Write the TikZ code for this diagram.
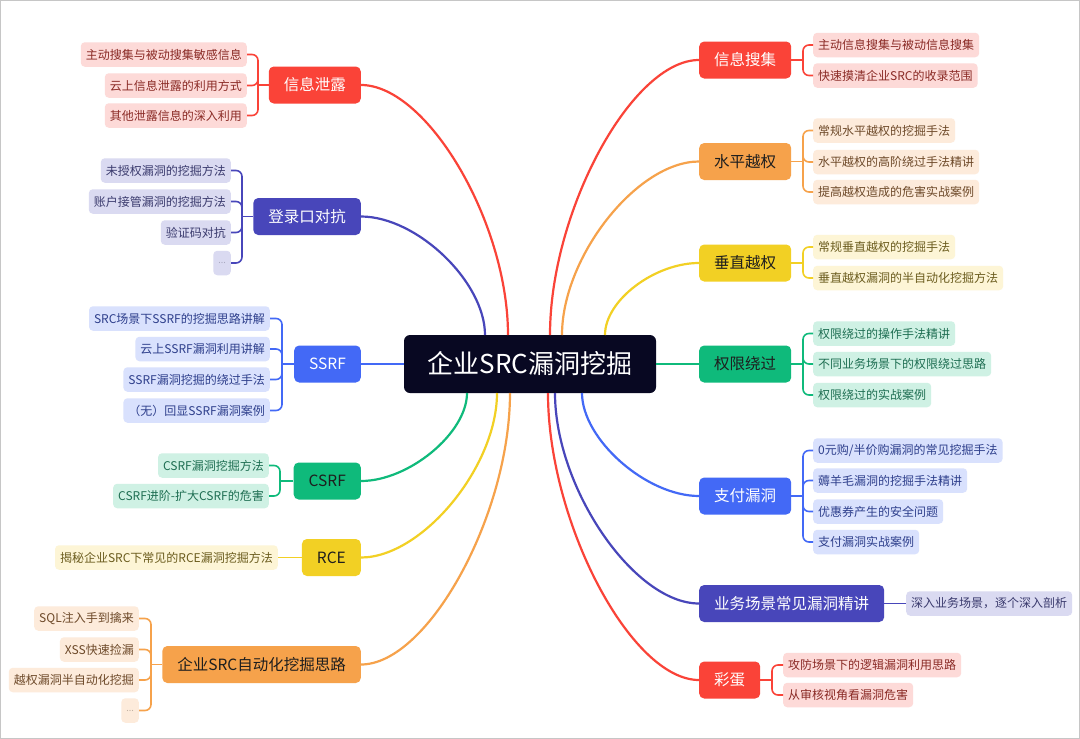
\documentclass[tikz,border=0pt]{standalone}
\usepackage{fontspec}
\setmainfont{Noto Sans CJK SC}
\usetikzlibrary{calc}
\definecolor{cRed}{HTML}{FA4338}
\definecolor{cOrange}{HTML}{F6A24B}
\definecolor{cYellow}{HTML}{F2D024}
\definecolor{cGreen}{HTML}{0FBA7B}
\definecolor{cBlue}{HTML}{4369F6}
\definecolor{cIndigo}{HTML}{4846BA}
\definecolor{cDark}{HTML}{080822}
\definecolor{fRed}{HTML}{FDDAD8}
\definecolor{fOrange}{HTML}{FDEBDB}
\definecolor{fYellow}{HTML}{FDF5D6}
\definecolor{fGreen}{HTML}{CFF1E4}
\definecolor{fBlue}{HTML}{D9E1FD}
\definecolor{fIndigo}{HTML}{DADAF1}
\definecolor{tRed}{HTML}{8A2A25}
\definecolor{tOrange}{HTML}{6E4A2A}
\definecolor{tYellow}{HTML}{6B5C1E}
\definecolor{tGreen}{HTML}{1E6E52}
\definecolor{tBlue}{HTML}{2E3F8C}
\definecolor{tIndigo}{HTML}{3B3B6E}
\definecolor{tDark}{HTML}{1E1E1E}
\begin{document}
\begin{tikzpicture}[x=1pt,y=-1pt,
  centralbox/.style={fill=cDark, text=white, rounded corners=6pt, minimum width=252pt, minimum height=58pt, inner sep=0pt, font=\fontsize{26}{30}\selectfont},
  mainbox/.style={rounded corners=5pt, minimum height=37pt, inner xsep=15pt, inner ysep=0pt, font=\fontsize{15.5}{18}\selectfont},
  leaf/.style={rounded corners=4pt, minimum height=24.5pt, inner xsep=5pt, inner ysep=0pt, font=\fontsize{12}{14}\selectfont},
  lRed/.style={leaf, fill=fRed, text=tRed},
  lOrange/.style={leaf, fill=fOrange, text=tOrange},
  lYellow/.style={leaf, fill=fYellow, text=tYellow},
  lGreen/.style={leaf, fill=fGreen, text=tGreen},
  lBlue/.style={leaf, fill=fBlue, text=tBlue},
  lIndigo/.style={leaf, fill=fIndigo, text=tIndigo},
  trunk/.style={line width=2.2pt},
  twig/.style={line width=1.6pt, rounded corners=6pt}
]
\useasboundingbox (0,0) rectangle (1080,739);
\fill[white] (0,0) rectangle (1080,739);
\draw[gray!45, line width=1.2pt] (0.6,0.6) rectangle (1079.4,738.4);

% ---------- root ----------
\node[centralbox] (root) at (530,364) {企业SRC漏洞挖掘};

% ---------- right main ----------
\node[mainbox, fill=cRed, text=white, anchor=west] (r1) at (699,60) {信息搜集};
\node[mainbox, fill=cOrange, text=tDark, anchor=west] (r2) at (699,161.5) {水平越权};
\node[mainbox, fill=cYellow, text=tDark, anchor=west] (r3) at (699,263) {垂直越权};
\node[mainbox, fill=cGreen, text=tDark, anchor=west] (r4) at (699,364) {权限绕过};
\node[mainbox, fill=cBlue, text=white, anchor=west] (r5) at (699,496) {支付漏洞};
\node[mainbox, fill=cIndigo, text=white, anchor=west] (r6) at (699,603.5) {业务场景常见漏洞精讲};
\node[mainbox, fill=cRed, text=white, anchor=west] (r7) at (699,680) {彩蛋};

% ---------- left main ----------
\node[mainbox, fill=cRed, text=white, anchor=east] (l1) at (361,85) {信息泄露};
\node[mainbox, fill=cIndigo, text=white, anchor=east] (l2) at (361,216.5) {登录口对抗};
\node[mainbox, fill=cBlue, text=white, anchor=east] (l3) at (361,364) {SSRF};
\node[mainbox, fill=cGreen, text=tDark, anchor=east] (l4) at (361,481) {CSRF};
\node[mainbox, fill=cYellow, text=tDark, anchor=east] (l5) at (361,557.5) {RCE};
\node[mainbox, fill=cOrange, text=tDark, anchor=east] (l6) at (361,664.5) {企业SRC自动化挖掘思路};

% ---------- attach points on root ----------
\coordinate (tl1) at (508,335);
\coordinate (tl2) at (485,335);
\coordinate (tr1) at (550,335);
\coordinate (tr2) at (562,335);
\coordinate (tr3) at (605,335);
\coordinate (bl4) at (467,393);
\coordinate (bl5) at (497,393);
\coordinate (bl6) at (510,393);
\coordinate (br5) at (582,393);
\coordinate (br6) at (555,393);
\coordinate (br7) at (548,393);

% ---------- trunks ----------
\draw[trunk, cRed] (tl1) .. controls (508,222) and (427,85) .. (l1.east);
\draw[trunk, cIndigo] (tl2) .. controls (485,282) and (417,216.5) .. (l2.east);
\draw[trunk, cBlue] (root.west) -- (l3.east);
\draw[trunk, cGreen] (bl4) .. controls (467,433) and (409,481) .. (l4.east);
\draw[trunk, cYellow] (bl5) .. controls (497,467) and (422,557.5) .. (l5.east);
\draw[trunk, cOrange] (bl6) .. controls (510,515) and (428,664.5) .. (l6.east);
\draw[trunk, cRed] (tr1) .. controls (550,211) and (632,60) .. (r1.west);
\draw[trunk, cOrange] (tr2) .. controls (562,257) and (637,161.5) .. (r2.west);
\draw[trunk, cYellow] (tr3) .. controls (605,300) and (655,263) .. (r3.west);
\draw[trunk, cGreen] (root.east) -- (r4.west);
\draw[trunk, cBlue] (br5) .. controls (582,439) and (646,496) .. (r5.west);
\draw[trunk, cIndigo] (br6) .. controls (555,488) and (634,603.5) .. (r6.west);
\draw[trunk, cRed] (br7) .. controls (548,522) and (631,680) .. (r7.west);

% ---------- right leaves ----------
\node[lRed, anchor=west] (r1a) at (813,45) {主动信息搜集与被动信息搜集};
\node[lRed, anchor=west] (r1b) at (813,75.5) {快速摸清企业SRC的收录范围};
\node[lOrange, anchor=west] (r2a) at (813,130.5) {常规水平越权的挖掘手法};
\node[lOrange, anchor=west] (r2b) at (813,162) {水平越权的高阶绕过手法精讲};
\node[lOrange, anchor=west] (r2c) at (813,192) {提高越权造成的危害实战案例};
\node[lYellow, anchor=west] (r3a) at (813,247) {常规垂直越权的挖掘手法};
\node[lYellow, anchor=west] (r3b) at (813,278) {垂直越权漏洞的半自动化挖掘方法};
\node[lGreen, anchor=west] (r4a) at (813,333.5) {权限绕过的操作手法精讲};
\node[lGreen, anchor=west] (r4b) at (813,364) {不同业务场景下的权限绕过思路};
\node[lGreen, anchor=west] (r4c) at (813,395) {权限绕过的实战案例};
\node[lBlue, anchor=west] (r5a) at (813,450.5) {0元购/半价购漏洞的常见挖掘手法};
\node[lBlue, anchor=west] (r5b) at (813,480.5) {薅羊毛漏洞的挖掘手法精讲};
\node[lBlue, anchor=west] (r5c) at (813,511.5) {优惠券产生的安全问题};
\node[lBlue, anchor=west] (r5d) at (813,542) {支付漏洞实战案例};
\node[lIndigo, anchor=west] (r6a) at (906,603.5) {深入业务场景，逐个深入剖析};
\node[lRed, anchor=west] (r7a) at (783,665) {攻防场景下的逻辑漏洞利用思路};
\node[lRed, anchor=west] (r7b) at (783,695) {从审核视角看漏洞危害};

% ---------- left leaves ----------
\node[lRed, anchor=east] (l1a) at (247,54.5) {主动搜集与被动搜集敏感信息};
\node[lRed, anchor=east] (l1b) at (247,85.5) {云上信息泄露的利用方式};
\node[lRed, anchor=east] (l1c) at (247,115.5) {其他泄露信息的深入利用};
\node[lIndigo, anchor=east] (l2a) at (231,170.5) {未授权漏洞的挖掘方法};
\node[lIndigo, anchor=east] (l2b) at (231,201.5) {账户接管漏洞的挖掘方法};
\node[lIndigo, anchor=east] (l2c) at (231,232.5) {验证码对抗};
\node[lIndigo, anchor=east, text=tIndigo!45, font=\fontsize{9}{10}\selectfont] (l2d) at (231,263) {...};
\node[lBlue, anchor=east] (l3a) at (270,318.5) {SRC场景下SSRF的挖掘思路讲解};
\node[lBlue, anchor=east] (l3b) at (270,349) {云上SSRF漏洞利用讲解};
\node[lBlue, anchor=east] (l3c) at (270,379.5) {SSRF漏洞挖掘的绕过手法};
\node[lBlue, anchor=east] (l3d) at (270,410.5) {（无）回显SSRF漏洞案例};
\node[lGreen, anchor=east] (l4a) at (269,465.5) {CSRF漏洞挖掘方法};
\node[lGreen, anchor=east] (l4b) at (269,496) {CSRF进阶-扩大CSRF的危害};
\node[lYellow, anchor=east] (l5a) at (278,557.5) {揭秘企业SRC下常见的RCE漏洞挖掘方法};
\node[lOrange, anchor=east] (l6a) at (139,618.5) {SQL注入手到擒来};
\node[lOrange, anchor=east] (l6b) at (139,649.5) {XSS快速捡漏};
\node[lOrange, anchor=east] (l6c) at (139,680) {越权漏洞半自动化挖掘};
\node[lOrange, anchor=east, text=tOrange!45, font=\fontsize{9}{10}\selectfont] (l6d) at (139,710.5) {...};

% ---------- bracket junctions ----------
\coordinate (jr1) at (803,60);
\coordinate (jr2) at (803,161.5);
\coordinate (jr3) at (803,263);
\coordinate (jr4) at (803,364);
\coordinate (jr5) at (803,496);
\coordinate (jr7) at (772,680);
\coordinate (jl1) at (258,85);
\coordinate (jl2) at (242,216.5);
\coordinate (jl3) at (282,364);
\coordinate (jl4) at (280,481);
\coordinate (jl6) at (151,664.5);

% ---------- twigs right ----------
\draw[twig, cRed] (r1.east) -- (jr1);
\foreach \c in {r1a,r1b} \draw[twig, cRed] (jr1) |- (\c.west);
\draw[twig, cOrange] (r2.east) -- (jr2);
\foreach \c in {r2a,r2b,r2c} \draw[twig, cOrange] (jr2) |- (\c.west);
\draw[twig, cYellow] (r3.east) -- (jr3);
\foreach \c in {r3a,r3b} \draw[twig, cYellow] (jr3) |- (\c.west);
\draw[twig, cGreen] (r4.east) -- (jr4);
\foreach \c in {r4a,r4b,r4c} \draw[twig, cGreen] (jr4) |- (\c.west);
\draw[twig, cBlue] (r5.east) -- (jr5);
\foreach \c in {r5a,r5b,r5c,r5d} \draw[twig, cBlue] (jr5) |- (\c.west);
\draw[twig, cIndigo] (r6.east) -- (r6a.west);
\draw[twig, cRed] (r7.east) -- (jr7);
\foreach \c in {r7a,r7b} \draw[twig, cRed] (jr7) |- (\c.west);

% ---------- twigs left ----------
\draw[twig, cRed] (l1.west) -- (jl1);
\foreach \c in {l1a,l1b,l1c} \draw[twig, cRed] (jl1) |- (\c.east);
\draw[twig, cIndigo] (l2.west) -- (jl2);
\foreach \c in {l2a,l2b,l2c,l2d} \draw[twig, cIndigo] (jl2) |- (\c.east);
\draw[twig, cBlue] (l3.west) -- (jl3);
\foreach \c in {l3a,l3b,l3c,l3d} \draw[twig, cBlue] (jl3) |- (\c.east);
\draw[twig, cGreen] (l4.west) -- (jl4);
\foreach \c in {l4a,l4b} \draw[twig, cGreen] (jl4) |- (\c.east);
\draw[twig, cYellow] (l5.west) -- (l5a.east);
\draw[twig, cOrange] (l6.west) -- (jl6);
\foreach \c in {l6a,l6b,l6c,l6d} \draw[twig, cOrange] (jl6) |- (\c.east);
\end{tikzpicture}
\end{document}
